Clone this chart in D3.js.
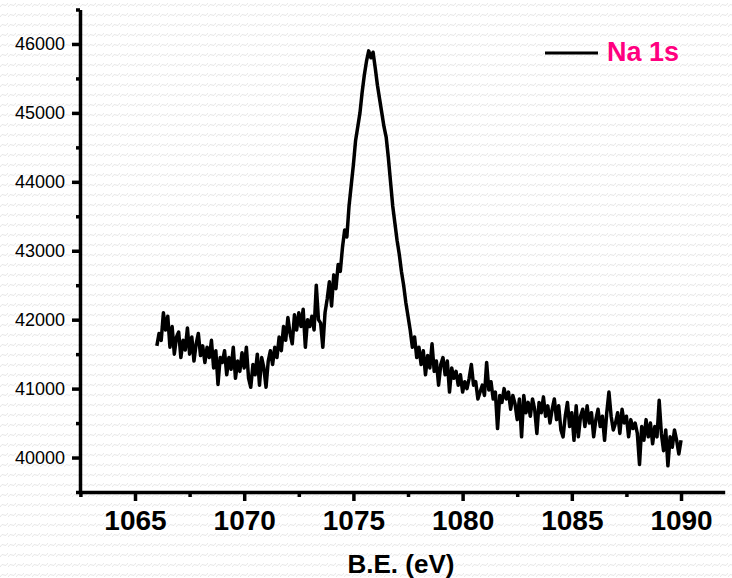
<!DOCTYPE html>
<html>
<head>
<meta charset="utf-8">
<script src="https://cdn.jsdelivr.net/npm/d3@7"></script>
<style>
  body { margin: 0; background: #fff; }
  text { font-family: "Liberation Sans", Arial, sans-serif; }
</style>
</head>
<body>
<svg id="chart"></svg>
<script>
// Binding energy grid start/step (eV) and measured counts
const eStart = 1066.0;
const eStep = 0.1;
const counts = [
  41620, 41800, 41700, 42100, 41850, 42050, 41600, 41900, 41500, 41750,
  41820, 41450, 41700, 41560, 41880, 41500, 41750, 41400, 41650, 41800,
  41480, 41620, 41380, 41600, 41450, 41700, 41300, 41550, 41060, 41450,
  41380, 41550, 41200, 41450, 41280, 41600, 41150, 41400, 41250, 41520,
  41300, 41600, 41150, 41020, 41350, 41200, 41500, 41050, 41450, 41300,
  41020, 41400, 41550, 41350, 41600, 41450, 41750, 41550, 41900, 41700,
  42030, 41800, 41650, 42070, 41850, 42100, 41900, 42150, 41600, 42000,
  41900, 42050, 41850, 42500, 42000, 41950, 41600, 42100, 42300, 42550,
  42200, 42650, 42450, 42800, 42700, 43050, 43300, 43200, 43650, 43950,
  44250, 44600, 44800, 45000, 45300, 45550, 45750, 45900, 45800, 45880,
  45650, 45400, 45200, 45000, 44800, 44650, 44350, 44000, 43650, 43400,
  43150, 42950, 42700, 42500, 42250, 42050, 41850, 41600, 41750, 41450,
  41600, 41350, 41550, 41200, 41480, 41300, 41650, 41250, 41400, 41050,
  41350, 41450, 41200, 41400, 40950, 41300, 41150, 41250, 41050, 41200,
  40950, 41100, 41000, 41150, 41350, 41050, 41100, 40850, 40950, 41050,
  40900, 41380, 40980, 41100, 40850, 40950, 40420, 40900, 40800, 41000,
  40850, 40950, 40700, 40900, 40780, 40550, 40850, 40300, 40900, 40650,
  40800, 40600, 40850, 40700, 40350, 40800, 40650, 40880, 40600, 40750,
  40500, 40700, 40850, 40550, 40750, 40400, 40300, 40600, 40800, 40450,
  40650, 40250, 40750, 40300, 40600, 40700, 40450, 40750, 40500, 40650,
  40300, 40550, 40700, 40450, 40600, 40250, 40650, 40950, 40600, 40400,
  40500, 40650, 40350, 40700, 40500, 40600, 40300, 40550, 40420, 40500,
  40350, 39900, 40450, 40250, 40550, 40300, 40500, 40200, 40450, 40300,
  40830, 40350, 40100, 40400, 39880, 40300, 40150, 40400, 40250, 40050,
  40250
];
const xTicks = [1065, 1070, 1075, 1080, 1085, 1090];
const xMinor = [1062.5, 1067.5, 1072.5, 1077.5, 1082.5, 1087.5];
const yTicks = [40000, 41000, 42000, 43000, 44000, 45000, 46000];
const yMinor = [39500, 40500, 41500, 42500, 43500, 44500, 45500, 46500];
const seriesName = "Na 1s";
const xTitle = "B.E. (eV)";

const data = counts.map((c, i) => ({ e: +(eStart + i * eStep).toFixed(2), c: c }));

const W = 732, H = 578;
const svg = d3.select("#chart").attr("width", W).attr("height", H);

// faint zigzag background
const defs = svg.append("defs");
const pat = defs.append("pattern")
  .attr("id", "zig")
  .attr("patternUnits", "userSpaceOnUse")
  .attr("width", 8).attr("height", 10);
pat.append("path")
  .attr("d", "M0,7 Q2,3 4,5 Q6,7 8,3")
  .attr("fill", "none")
  .attr("stroke", "#e6e6e6")
  .attr("stroke-width", 1);
svg.append("rect").attr("width", W).attr("height", H).attr("fill", "#fff");
svg.append("rect").attr("width", W).attr("height", H).attr("fill", "url(#zig)");

const x = d3.scaleLinear().domain([1062.5, 1092]).range([80.4, 724.7]);
const y = d3.scaleLinear().domain([39500, 46500]).range([492, 9.5]);

// minor ticks
svg.append("g")
  .attr("transform", "translate(80,0)")
  .call(d3.axisLeft(y).tickValues(yMinor).tickSize(4).tickFormat(""))
  .call(g => g.select(".domain").remove())
  .call(g => g.selectAll("line").attr("stroke", "#000").attr("stroke-width", 3.5));
svg.append("g")
  .attr("transform", "translate(0,492)")
  .call(d3.axisBottom(x).tickValues(xMinor).tickSize(5).tickFormat(""))
  .call(g => g.select(".domain").remove())
  .call(g => g.selectAll("line").attr("stroke", "#000").attr("stroke-width", 3.5));

// y axis
const yAxisG = svg.append("g")
  .attr("transform", "translate(80,0)")
  .call(d3.axisLeft(y).tickValues(yTicks).tickSize(8).tickSizeOuter(0).tickPadding(7).tickFormat(d3.format("d")));
yAxisG.select(".domain").attr("stroke", "#000").attr("stroke-width", 3.5);
yAxisG.selectAll("line").attr("stroke", "#000").attr("stroke-width", 3.5);
yAxisG.selectAll("text")
  .style("font-family", "'Liberation Sans', Arial, sans-serif")
  .style("font-size", "18px")
  .attr("fill", "#000");

// x axis
const xAxisG = svg.append("g")
  .attr("transform", "translate(0,492)")
  .call(d3.axisBottom(x).tickValues(xTicks).tickSize(9).tickSizeOuter(0).tickFormat(d3.format("d")));
xAxisG.select(".domain").attr("stroke", "#000").attr("stroke-width", 3.5);
xAxisG.selectAll("line").attr("stroke", "#000").attr("stroke-width", 3.5);
xAxisG.selectAll("text")
  .attr("y", 38).attr("dy", 0)
  .style("font-family", "'Liberation Sans', Arial, sans-serif")
  .style("font-size", "28px")
  .style("font-weight", "bold")
  .attr("fill", "#000");

// x title
svg.append("text")
  .attr("x", 401).attr("y", 573)
  .attr("text-anchor", "middle")
  .style("font-size", "26px")
  .style("font-weight", "bold")
  .text(xTitle);

// spectrum
const line = d3.line().x(d => x(d.e)).y(d => y(d.c));
svg.append("path")
  .datum(data)
  .attr("d", line)
  .attr("fill", "none")
  .attr("stroke", "#000")
  .attr("stroke-width", 3.5)
  .attr("stroke-linejoin", "round");

// legend
svg.append("line")
  .attr("x1", 545).attr("x2", 598).attr("y1", 53).attr("y2", 53)
  .attr("stroke", "#000").attr("stroke-width", 3);
svg.append("text")
  .attr("x", 607).attr("y", 61)
  .style("font-size", "27px")
  .style("font-weight", "bold")
  .attr("fill", "#ff0080")
  .text(seriesName);
</script>
</body>
</html>
